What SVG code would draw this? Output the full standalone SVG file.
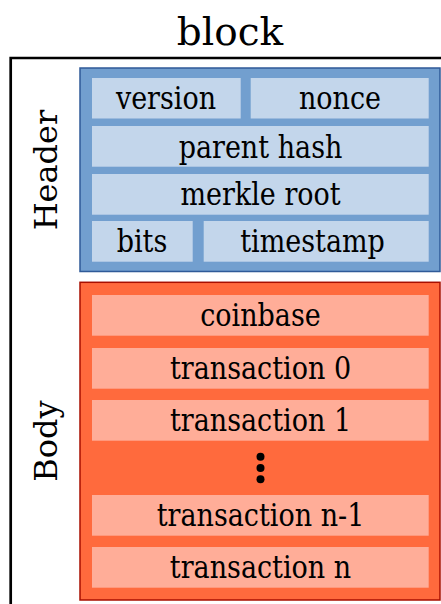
<svg xmlns="http://www.w3.org/2000/svg" width="441" height="604" viewBox="0 0 441 604">
<style>
text{font-family:"DejaVu Serif","Liberation Serif",serif;fill:#000;text-anchor:middle}
.cell{font-size:27px}
.hbox{fill:#729fcf;stroke:#2f5a98;stroke-width:1.5}
.hcell{fill:#c3d6eb}
.bbox{fill:#ff6a3d;stroke:#a80f00;stroke-width:1.5}
.bcell{fill:#ffad98}
</style>
<rect width="441" height="604" fill="#fff"/>
<g id="block">
<path d="M10.7 604 V58 H441" fill="none" stroke="#000" stroke-width="2.7"/>
<text x="230" y="45" style="font-size:39px">block</text>
</g>
<g id="header">
<rect class="hbox" x="80" y="68" width="360" height="203.5"/>
<text transform="translate(57 170) rotate(-90)" style="font-size:32px">Header</text>
</g>
<g id="version"><rect class="hcell" x="92" y="78" width="148.7" height="40.5"/><text class="cell" transform="translate(166 109.3) scale(1 1.14)">version</text></g>
<g id="nonce"><rect class="hcell" x="250.7" y="78" width="178" height="40.5"/><text class="cell" transform="translate(340 109.3) scale(1 1.14)">nonce</text></g>
<g id="parent-hash"><rect class="hcell" x="92" y="126" width="336.7" height="40.7"/><text class="cell" transform="translate(260.5 157.5) scale(1 1.14)">parent hash</text></g>
<g id="merkle-root"><rect class="hcell" x="92" y="174" width="336.7" height="40.7"/><text class="cell" transform="translate(260.5 205.3) scale(1 1.14)">merkle root</text></g>
<g id="bits"><rect class="hcell" x="92" y="221" width="100.7" height="40.7"/><text class="cell" transform="translate(142 252.3) scale(1 1.14)">bits</text></g>
<g id="timestamp"><rect class="hcell" x="203.7" y="221" width="225" height="40.7"/><text class="cell" transform="translate(312.5 252.3) scale(1 1.14)">timestamp</text></g>
<g id="body">
<rect class="bbox" x="80" y="282.3" width="360" height="317.7"/>
<text transform="translate(57 441) rotate(-90)" style="font-size:32px">Body</text>
<g fill="#000"><circle cx="260.5" cy="456.7" r="4"/><circle cx="260.5" cy="468" r="4"/><circle cx="260.5" cy="479.3" r="4"/></g>
</g>
<g id="coinbase"><rect class="bcell" x="92" y="295" width="336.7" height="40.7"/><text class="cell" transform="translate(260.5 326.3) scale(1 1.14)">coinbase</text></g>
<g id="transaction-0"><rect class="bcell" x="92" y="348" width="336.7" height="40.7"/><text class="cell" transform="translate(260.5 379.3) scale(1 1.14)">transaction 0</text></g>
<g id="transaction-1"><rect class="bcell" x="92" y="400" width="336.7" height="40.7"/><text class="cell" transform="translate(260.5 431.3) scale(1 1.14)">transaction 1</text></g>
<g id="transaction-n-1"><rect class="bcell" x="92" y="495" width="336.7" height="40.7"/><text class="cell" transform="translate(260.5 526.3) scale(1 1.14)">transaction n-1</text></g>
<g id="transaction-n"><rect class="bcell" x="92" y="547" width="336.7" height="40.7"/><text class="cell" transform="translate(260.5 578.3) scale(1 1.14)">transaction n</text></g>
<g id="connectors"/>
</svg>
